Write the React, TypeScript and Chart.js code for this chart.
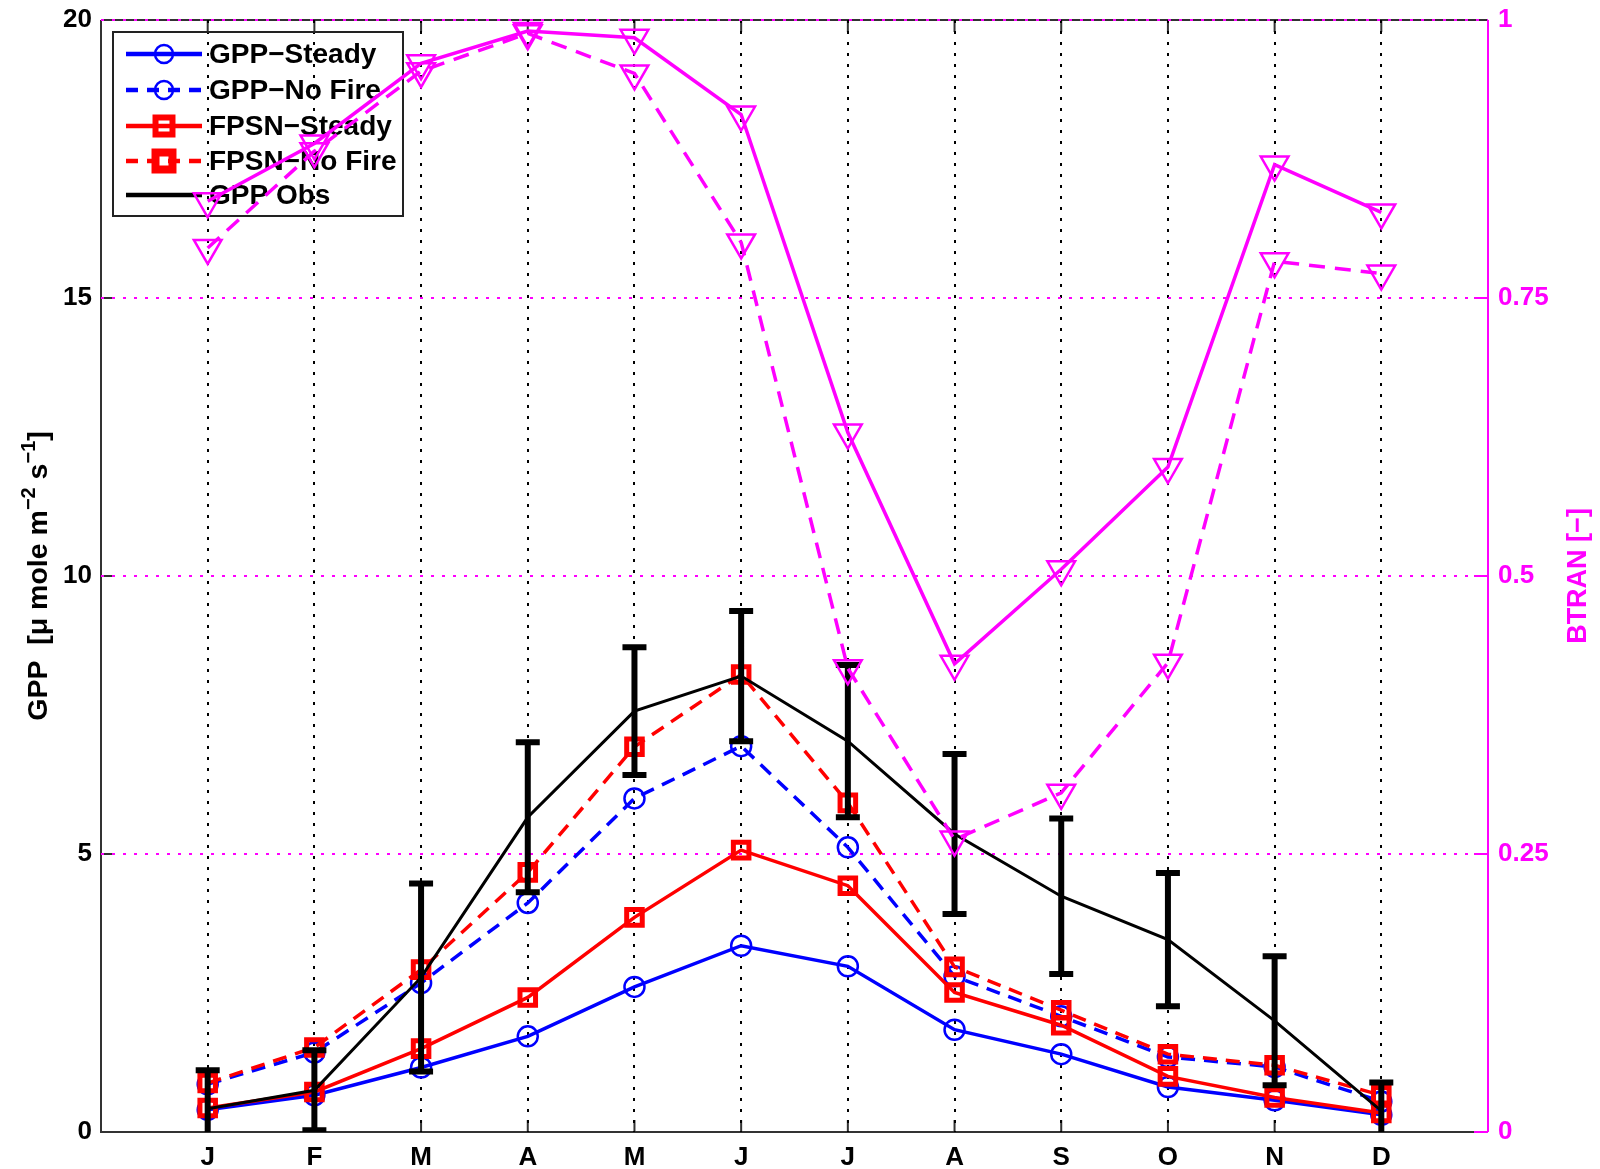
import React, { useEffect, useRef } from 'react';
import { Chart, registerables } from 'chart.js';

Chart.register(...registerables);

// ---------------- data ----------------
const months = ['J', 'F', 'M', 'A', 'M', 'J', 'J', 'A', 'S', 'O', 'N', 'D'];

const gppSteady = [0.40, 0.66, 1.16, 1.72, 2.61, 3.35, 2.98, 1.84, 1.40, 0.81, 0.57, 0.31];
const gppNoFire = [0.86, 1.43, 2.68, 4.12, 6.00, 6.94, 5.12, 2.80, 2.08, 1.35, 1.17, 0.55];
const fpsnSteady = [0.43, 0.72, 1.50, 2.42, 3.86, 5.07, 4.43, 2.51, 1.92, 1.00, 0.62, 0.34];
const fpsnNoFire = [0.88, 1.52, 2.92, 4.67, 6.93, 8.23, 5.92, 2.97, 2.19, 1.40, 1.20, 0.66];
const gppObs = [0.42, 0.75, 2.78, 5.66, 7.57, 8.20, 7.03, 5.36, 4.24, 3.46, 2.00, 0.38];
const gppObsErr = [0.69, 0.72, 1.69, 1.35, 1.15, 1.17, 1.37, 1.44, 1.40, 1.20, 1.16, 0.51];
const btranSteady = [0.837, 0.889, 0.961, 0.990, 0.984, 0.915, 0.629, 0.421, 0.506, 0.598, 0.870, 0.827];
const btranNoFire = [0.795, 0.882, 0.954, 0.988, 0.952, 0.800, 0.417, 0.263, 0.305, 0.422, 0.783, 0.772];

const leftAxisRange = [0, 20];
const rightAxisRange = [0, 1];

// ---------------- styles ----------------
const BLUE = '#0000ff';
const RED = '#ff0000';
const BLACK = '#000000';
const MAGENTA = '#ff00ff';
const AXIS = '#333333';
const FONT = "'Liberation Sans', Arial, Helvetica, sans-serif";

const toXY = (arr: number[]) => arr.map((v, i) => ({ x: i + 1, y: v }));

function drawMarker(ctx: CanvasRenderingContext2D, style: string, x: number, y: number, r: number) {
  ctx.beginPath();
  if (style === 'circle') {
    ctx.arc(x, y, r, 0, Math.PI * 2);
  } else if (style === 'rect') {
    const s = r * Math.SQRT1_2;
    ctx.rect(x - s, y - s, 2 * s, 2 * s);
  } else if (style === 'triangle') {
    ctx.moveTo(x, y + r);
    ctx.lineTo(x - r * Math.sin(Math.PI / 3), y - r / 2);
    ctx.lineTo(x + r * Math.sin(Math.PI / 3), y - r / 2);
    ctx.closePath();
  }
  ctx.stroke();
}

const framePlugin = {
  id: 'frame',
  beforeDraw(chart: any) {
    const { ctx, chartArea: a, scales } = chart;
    ctx.save();
    ctx.lineWidth = 2;
    ctx.strokeStyle = AXIS;
    ctx.beginPath();
    ctx.moveTo(a.left, a.top);
    ctx.lineTo(a.left, a.bottom);
    ctx.lineTo(a.right, a.bottom);
    ctx.moveTo(a.left, a.top);
    ctx.lineTo(a.right, a.top);
    ctx.stroke();
    const tl = 12;
    ctx.beginPath();
    for (let i = 1; i <= months.length; i++) {
      const x = scales.x.getPixelForValue(i);
      ctx.moveTo(x, a.bottom);
      ctx.lineTo(x, a.bottom - tl);
      ctx.moveTo(x, a.top);
      ctx.lineTo(x, a.top + tl);
    }
    for (let v = 5; v < 20; v += 5) {
      const y = scales.y.getPixelForValue(v);
      ctx.moveTo(a.left, y);
      ctx.lineTo(a.left + tl, y);
    }
    ctx.stroke();
    ctx.strokeStyle = MAGENTA;
    ctx.beginPath();
    ctx.moveTo(a.right, a.top);
    ctx.lineTo(a.right, a.bottom);
    for (let v = 0; v < 1; v += 0.25) {
      const y = scales.y1.getPixelForValue(v);
      ctx.moveTo(a.right, y);
      ctx.lineTo(a.right - 14, y);
    }
    ctx.stroke();
    ctx.restore();
  },
};

const legendEntries = [
  { label: 'GPP\u2212Steady', color: BLUE, dash: [] as number[], marker: 'circle', r: 9, mw: 2.5 },
  { label: 'GPP\u2212No Fire', color: BLUE, dash: [12, 9], marker: 'circle', r: 9, mw: 2.5 },
  { label: 'FPSN\u2212Steady', color: RED, dash: [] as number[], marker: 'rect', r: 12, mw: 6 },
  { label: 'FPSN\u2212No Fire', color: RED, dash: [12, 9], marker: 'rect', r: 12, mw: 8 },
  { label: 'GPP Obs', color: BLACK, dash: [] as number[], marker: '', r: 0, mw: 0 },
];

const legendPlugin = {
  id: 'boxLegend',
  beforeDatasetsDraw(chart: any) {
    const ctx: CanvasRenderingContext2D = chart.ctx;
    ctx.save();
    const bx = 113, by = 32, bw = 290, bh = 184;
    ctx.strokeStyle = '#222';
    ctx.lineWidth = 2;
    ctx.setLineDash([]);
    ctx.strokeRect(bx, by, bw, bh);
    const rowY = [54, 90, 126, 161, 195];
    legendEntries.forEach((e, i) => {
      const y = rowY[i];
      ctx.strokeStyle = e.color;
      ctx.lineWidth = 4.5;
      ctx.setLineDash(e.dash);
      ctx.beginPath();
      ctx.moveTo(126, y);
      ctx.lineTo(202, y);
      ctx.stroke();
      ctx.setLineDash([]);
      if (e.marker) {
        ctx.lineWidth = e.mw;
        drawMarker(ctx, e.marker, 164, y, e.r);
      }
      ctx.fillStyle = '#000';
      ctx.font = `bold 28px ${FONT}`;
      ctx.textBaseline = 'middle';
      ctx.textAlign = 'left';
      ctx.fillText(e.label, 209, y + 1);
    });
    ctx.restore();
  },
};

const errorBarPlugin = {
  id: 'errorBars',
  afterDatasetDraw(chart: any, args: any) {
    const ds = chart.data.datasets[args.index];
    if (ds.label !== 'GPP Obs') return;
    const { ctx, chartArea: a, scales } = chart;
    ctx.save();
    ctx.beginPath();
    ctx.rect(a.left, a.top, a.right - a.left, a.bottom - a.top);
    ctx.clip();
    ctx.strokeStyle = BLACK;
    ctx.lineWidth = 6;
    ctx.setLineDash([]);
    ctx.beginPath();
    gppObs.forEach((v, i) => {
      const x = scales.x.getPixelForValue(i + 1);
      const yt = scales.y.getPixelForValue(v + gppObsErr[i]);
      const yb = scales.y.getPixelForValue(v - gppObsErr[i]);
      ctx.moveTo(x, yt);
      ctx.lineTo(x, yb);
      ctx.moveTo(x - 12, yt);
      ctx.lineTo(x + 12, yt);
      ctx.moveTo(x - 12, yb);
      ctx.lineTo(x + 12, yb);
    });
    ctx.stroke();
    ctx.restore();
  },
};

const titlesPlugin = {
  id: 'axisTitles',
  afterDraw(chart: any) {
    const ctx: CanvasRenderingContext2D = chart.ctx;
    const a = chart.chartArea;
    const cy = (a.top + a.bottom) / 2;
    const parts = [
      { t: 'GPP  [\u03bc mole m', sup: false },
      { t: '\u22122', sup: true },
      { t: ' s', sup: false },
      { t: '\u22121', sup: true },
      { t: ']', sup: false },
    ];
    const big = `bold 28.5px ${FONT}`;
    const small = `bold 20px ${FONT}`;
    ctx.save();
    let total = 0;
    parts.forEach((p) => {
      ctx.font = p.sup ? small : big;
      total += ctx.measureText(p.t).width;
    });
    ctx.translate(47, cy);
    ctx.rotate(-Math.PI / 2);
    ctx.fillStyle = '#000';
    ctx.textBaseline = 'alphabetic';
    ctx.textAlign = 'left';
    let x = -total / 2;
    parts.forEach((p) => {
      ctx.font = p.sup ? small : big;
      ctx.fillText(p.t, x, p.sup ? -12 : 0);
      x += ctx.measureText(p.t).width;
    });
    ctx.restore();

    ctx.save();
    ctx.translate(1586, cy);
    ctx.rotate(-Math.PI / 2);
    ctx.fillStyle = MAGENTA;
    ctx.font = `bold 27px ${FONT}`;
    ctx.textAlign = 'center';
    ctx.textBaseline = 'alphabetic';
    ctx.fillText('BTRAN [\u2212]', 0, 0);
    ctx.restore();
  },
};

const noVerticalPad = (s: any, w: number) => {
  s.width = w;
  s.paddingTop = 0;
  s.paddingBottom = 0;
};

export default function App() {
  const ref = useRef<HTMLCanvasElement | null>(null);

  useEffect(() => {
    if (!ref.current) return;
    const chart = new Chart(ref.current, {
      type: 'line',
      data: {
        datasets: [
          {
            label: 'BTRAN-Steady', data: toXY(btranSteady), yAxisID: 'y1',
            borderColor: MAGENTA, borderWidth: 3.5, pointStyle: 'triangle', rotation: 180,
            pointRadius: 16, pointBorderWidth: 2.5, pointBorderColor: MAGENTA,
            pointBackgroundColor: 'rgba(255,255,255,0)', order: 0, clip: false,
          },
          {
            label: 'BTRAN-No Fire', data: toXY(btranNoFire), yAxisID: 'y1',
            borderColor: MAGENTA, borderWidth: 3.5, borderDash: [16, 10], pointStyle: 'triangle', rotation: 180,
            pointRadius: 16, pointBorderWidth: 2.5, pointBorderColor: MAGENTA,
            pointBackgroundColor: 'rgba(255,255,255,0)', order: 1, clip: false,
          },
          {
            label: 'GPP Obs', data: toXY(gppObs), yAxisID: 'y',
            borderColor: BLACK, borderWidth: 3, pointRadius: 0, order: 2,
          },
          {
            label: 'FPSN-Steady', data: toXY(fpsnSteady), yAxisID: 'y',
            borderColor: RED, borderWidth: 3.5, pointStyle: 'rect', pointRadius: 11,
            pointBorderWidth: 5, pointBorderColor: RED, pointBackgroundColor: 'rgba(255,255,255,0)', order: 3,
          },
          {
            label: 'FPSN-No Fire', data: toXY(fpsnNoFire), yAxisID: 'y',
            borderColor: RED, borderWidth: 3.5, borderDash: [14, 9], pointStyle: 'rect', pointRadius: 11,
            pointBorderWidth: 5, pointBorderColor: RED, pointBackgroundColor: 'rgba(255,255,255,0)', order: 4,
          },
          {
            label: 'GPP-Steady', data: toXY(gppSteady), yAxisID: 'y',
            borderColor: BLUE, borderWidth: 3.5, pointStyle: 'circle', pointRadius: 10,
            pointBorderWidth: 2.5, pointBorderColor: BLUE, pointBackgroundColor: 'rgba(255,255,255,0)', order: 5,
          },
          {
            label: 'GPP-No Fire', data: toXY(gppNoFire), yAxisID: 'y',
            borderColor: BLUE, borderWidth: 3.5, borderDash: [14, 9], pointStyle: 'circle', pointRadius: 10,
            pointBorderWidth: 2.5, pointBorderColor: BLUE, pointBackgroundColor: 'rgba(255,255,255,0)', order: 6,
          },
        ],
      },
      options: {
        responsive: false,
        animation: false,
        devicePixelRatio: 1,
        events: [],
        layout: { padding: { top: 20, left: 0, right: 0, bottom: 0 } },
        plugins: {
          legend: { display: false },
          tooltip: { enabled: false },
          title: { display: false },
        },
        elements: { line: { tension: 0 } },
        scales: {
          x: {
            type: 'linear',
            min: 0,
            max: months.length + 1,
            afterFit: (s: any) => { s.height = 37; s.paddingLeft = 0; s.paddingRight = 0; },
            ticks: {
              stepSize: 1,
              autoSkip: false,
              maxRotation: 0,
              padding: 10,
              color: '#000',
              font: { family: FONT, size: 26, weight: 'bold' },
              callback: (v: any) => (v >= 1 && v <= months.length ? months[v - 1] : ''),
            },
            grid: {
              color: (c: any) => (c.tick && c.tick.value >= 1 && c.tick.value <= months.length ? '#000' : 'rgba(0,0,0,0)'),
              lineWidth: 2,
              drawTicks: false,
            },
            border: { display: false, dash: [3, 8] },
          },
          y: {
            type: 'linear',
            position: 'left',
            min: leftAxisRange[0],
            max: leftAxisRange[1],
            afterFit: (s: any) => noVerticalPad(s, 101),
            ticks: {
              stepSize: 5,
              padding: 9,
              color: '#000',
              font: { family: FONT, size: 26, weight: 'bold' },
            },
            grid: { display: false, drawTicks: false },
            border: { display: false },
          },
          y1: {
            type: 'linear',
            position: 'right',
            min: rightAxisRange[0],
            max: rightAxisRange[1],
            afterFit: (s: any) => noVerticalPad(s, 112),
            ticks: {
              stepSize: 0.25,
              padding: 10,
              color: MAGENTA,
              font: { family: FONT, size: 26, weight: 'bold' },
              callback: (v: any) => String(Math.round(Number(v) * 100) / 100),
            },
            grid: {
              color: (c: any) => (c.tick && c.tick.value > 0 ? MAGENTA : 'rgba(0,0,0,0)'),
              lineWidth: 2,
              drawTicks: false,
            },
            border: { display: false, dash: [3, 8] },
          },
        },
      } as any,
      plugins: [framePlugin, legendPlugin, errorBarPlugin, titlesPlugin],
    });
    return () => chart.destroy();
  }, []);

  return (
    <div style={{ position: 'absolute', left: 0, top: 0, width: 1600, height: 1169, background: '#fff' }}>
      <canvas ref={ref} width={1600} height={1169} style={{ display: 'block' }} />
    </div>
  );
}
